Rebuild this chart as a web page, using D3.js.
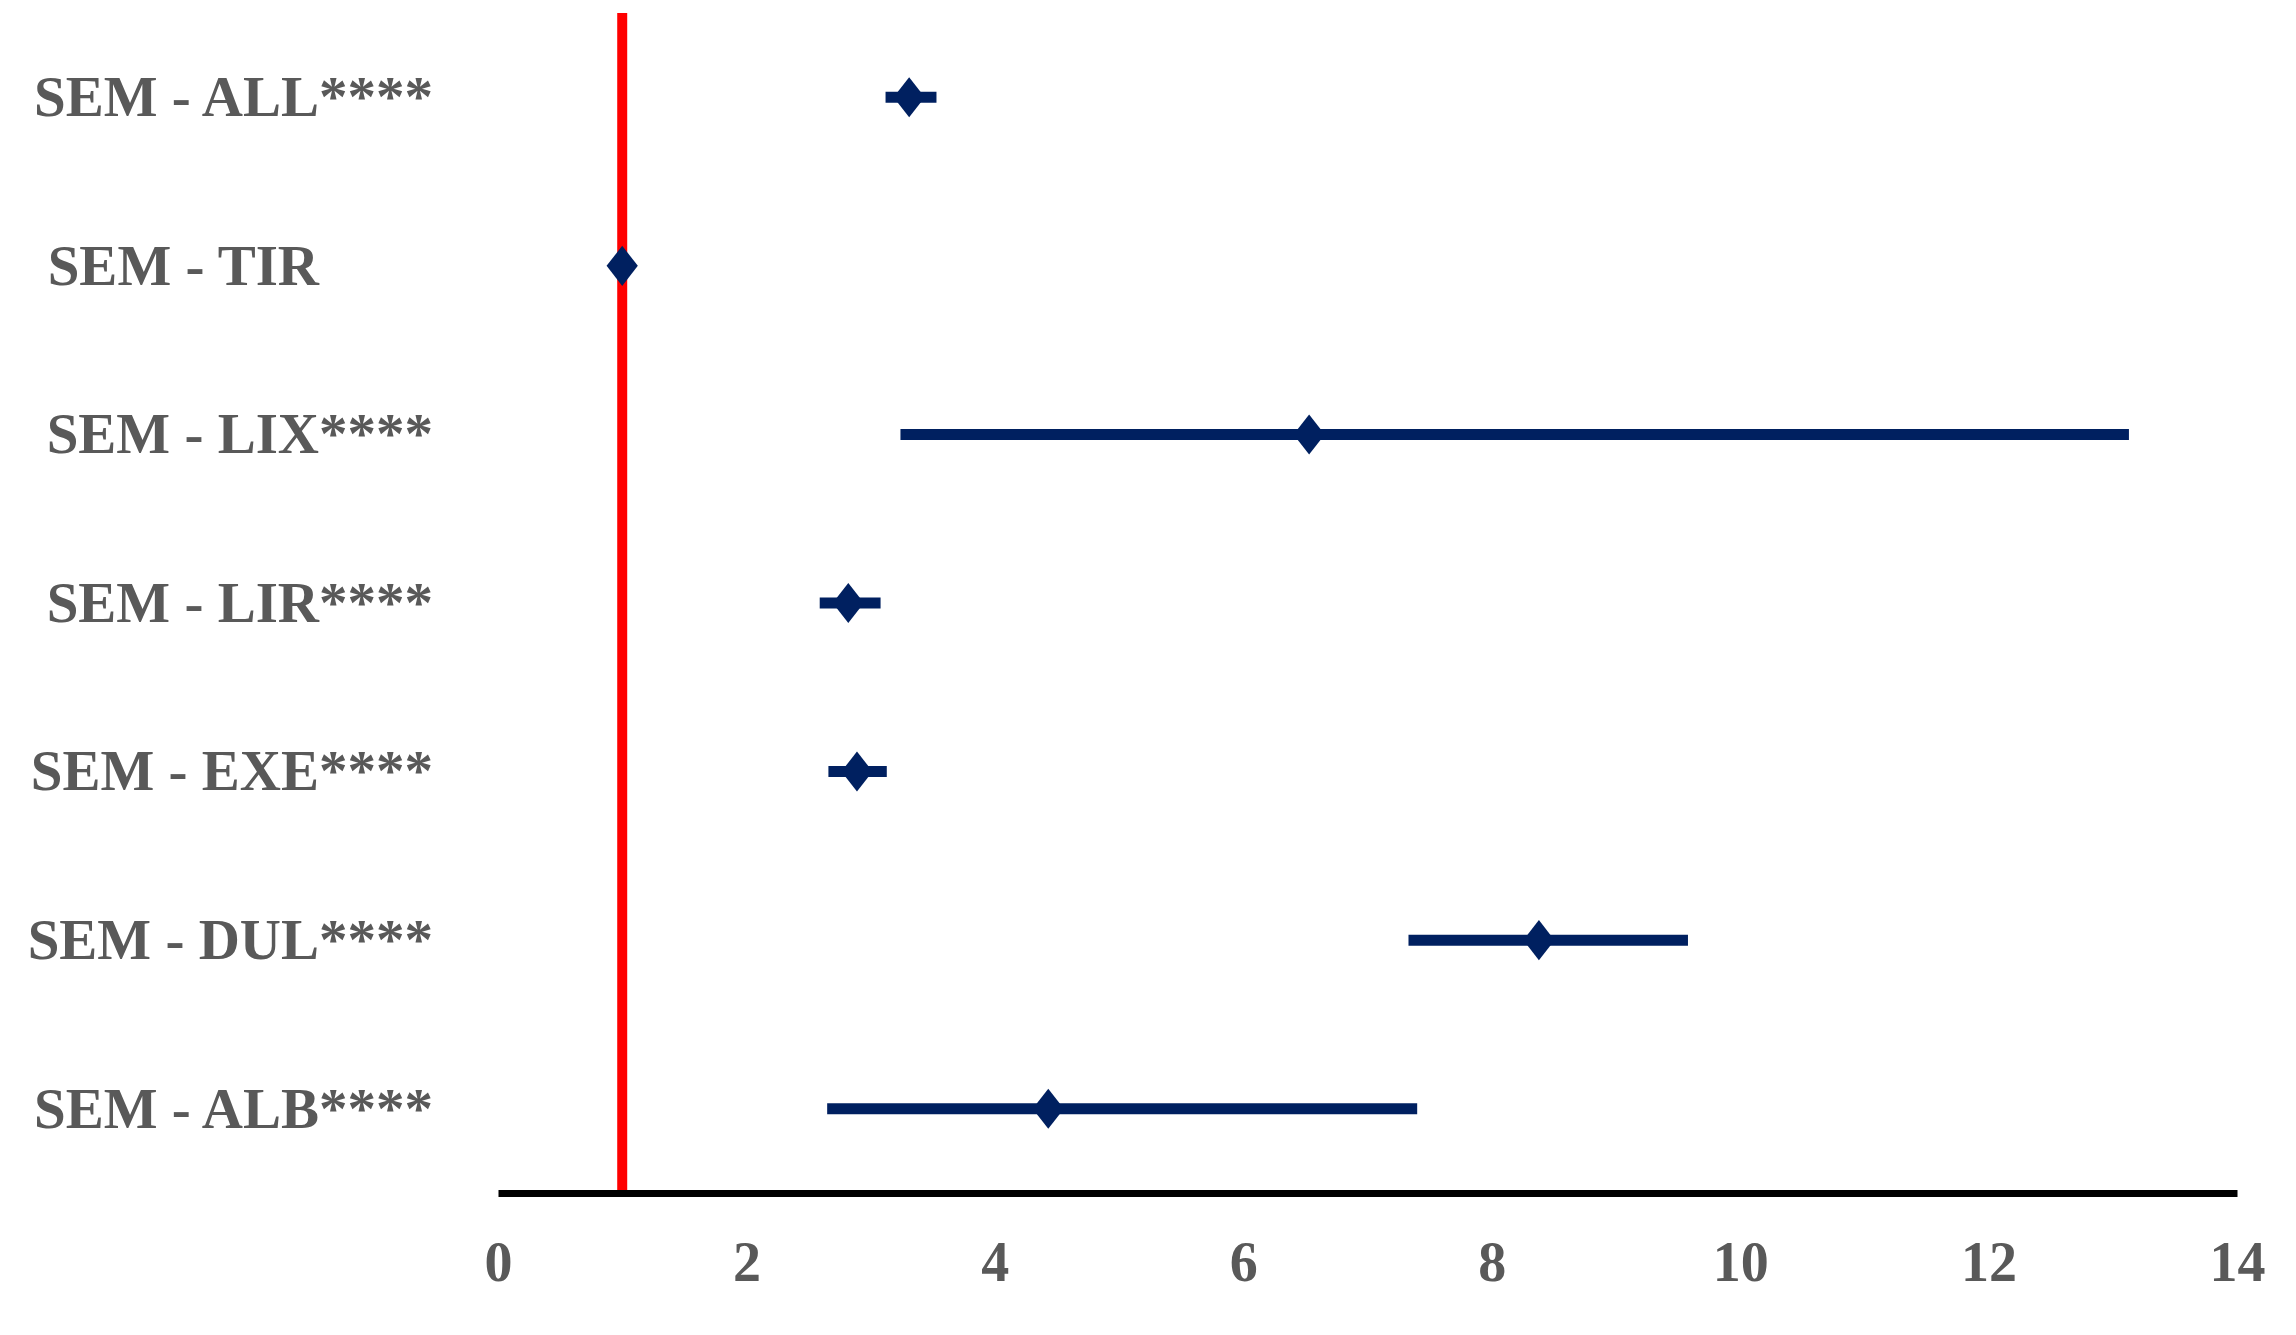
<!DOCTYPE html>
<html>
<head>
<meta charset="utf-8">
<script src="https://cdn.jsdelivr.net/npm/d3@7"></script>
<style>
  html, body { margin: 0; padding: 0; background: #fff; }
  svg { display: block; }
</style>
</head>
<body>
<svg id="chart" width="2296" height="1335"></svg>
<script>
const categories = ["SEM - ALL", "SEM - TIR", "SEM - LIX", "SEM - LIR", "SEM - EXE", "SEM - DUL", "SEM - ALB"];
const significance = ["****", "", "****", "****", "****", "****", "****"];
const estimates = [3.31, 1.0, 6.53, 2.82, 2.89, 8.38, 4.43];
const lower = [3.12, 1.0, 3.24, 2.59, 2.66, 7.33, 2.65];
const upper = [3.53, 1.0, 13.13, 3.08, 3.13, 9.58, 7.40];
const xTicks = [0, 2, 4, 6, 8, 10, 12, 14];
const referenceValue = 1;

const svg = d3.select("#chart");
const margin = { left: 498, right: 59, top: 13, bottom: 142 };
const W = 2296, H = 1335;

const x = d3.scaleLinear().domain([0, 14]).range([margin.left, W - margin.right]);
const y = d3.scaleBand().domain(categories).range([margin.top, H - margin.bottom]);
const yc = c => y(c) + y.bandwidth() / 2;

const navy = "#002060";
const textGray = "#595959";
const fontFamily = "'Liberation Serif', 'DejaVu Serif', serif";

// reference line
svg.append("line")
  .attr("x1", x(referenceValue)).attr("x2", x(referenceValue))
  .attr("y1", margin.top).attr("y2", H - margin.bottom)
  .attr("stroke", "#ff0000").attr("stroke-width", 10);

// axis
const axisG = svg.append("g").attr("transform", `translate(0,${H - margin.bottom})`)
  .call(d3.axisBottom(x).tickValues(xTicks).tickSize(0).tickPadding(48).tickFormat(d3.format("d")));
axisG.select(".domain").attr("stroke", "#000").attr("stroke-width", 7);
axisG.selectAll("text")
  .attr("fill", textGray)
  .attr("font-family", fontFamily)
  .attr("font-weight", "bold")
  .attr("font-size", 56);

const rows = categories.map((c, i) => ({ c, sig: significance[i], est: estimates[i], lo: lower[i], hi: upper[i] }));

// error bars
svg.append("g").selectAll("line").data(rows).join("line")
  .attr("x1", d => x(d.lo)).attr("x2", d => x(d.hi))
  .attr("y1", d => yc(d.c)).attr("y2", d => yc(d.c))
  .attr("stroke", navy).attr("stroke-width", 11);

// diamonds
const diamond = d3.symbol().type(d3.symbolSquare).size(26 * 26);
svg.append("g").selectAll("path").data(rows).join("path")
  .attr("d", diamond)
  .attr("transform", d => `translate(${x(d.est)},${yc(d.c)}) scale(0.85,1.09) rotate(45)`)
  .attr("fill", navy);

// category labels
const lab = svg.append("g").selectAll("text").data(rows).join("text")
  .attr("x", 433)
  .attr("y", d => yc(d.c))
  .attr("dy", "0.33em")
  .attr("text-anchor", "end")
  .attr("fill", textGray)
  .attr("font-family", fontFamily)
  .attr("font-weight", "bold")
  .attr("font-size", 57);
lab.append("tspan").text(d => d.c);
lab.append("tspan").text(d => d.sig || "****").attr("fill-opacity", d => d.sig ? 1 : 0);
</script>
</body>
</html>
